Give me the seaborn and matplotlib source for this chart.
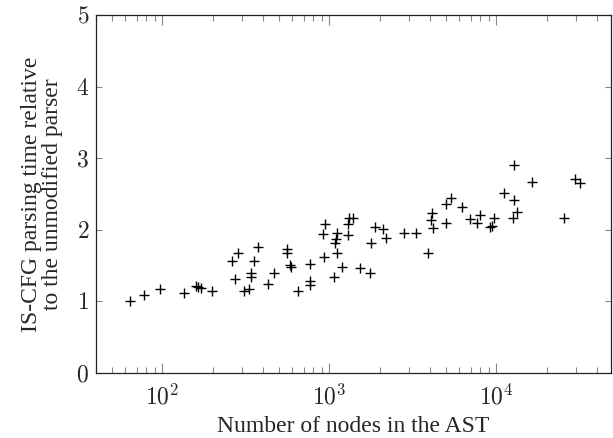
import numpy as np
import pandas as pd
import seaborn as sns
import matplotlib
matplotlib.use("Agg")
import matplotlib.pyplot as plt
from matplotlib.ticker import LogLocator, FixedLocator, FuncFormatter, NullFormatter

# AST size vs. relative IS-CFG parsing time
ast_nodes = [64, 77, 97, 135, 158, 163, 171, 198, 261, 284, 272, 307, 329, 341, 341,
             352, 371, 429, 464, 557, 557, 578, 592, 649, 762, 769, 769, 925, 916, 937,
             1067, 1102, 1077, 1091, 1102, 1189, 1291, 1291, 1309, 1384, 1513, 1743,
             1775, 1867, 2094, 2193, 2786, 3289, 3894, 4112, 4081, 4171, 4968, 4968,
             5322, 6254, 6918, 7656, 8017, 9117, 9466, 9637, 11066, 12704, 13184,
             12566, 12740, 16430, 25300, 29440, 31850]
rel_time = [1.00, 1.09, 1.18, 1.12, 1.215, 1.20, 1.19, 1.15, 1.56, 1.67, 1.31, 1.145,
            1.18, 1.39, 1.34, 1.56, 1.76, 1.25, 1.40, 1.73, 1.67, 1.51, 1.48, 1.145,
            1.52, 1.28, 1.23, 1.62, 1.94, 2.08, 1.34, 1.68, 1.82, 1.87, 1.95, 1.48,
            1.93, 2.08, 2.17, 2.16, 1.46, 1.39, 1.82, 2.04, 2.01, 1.88, 1.95, 1.95,
            1.67, 2.23, 2.14, 2.02, 2.10, 2.36, 2.44, 2.32, 2.15, 2.10, 2.20, 2.04,
            2.06, 2.16, 2.51, 2.41, 2.25, 2.17, 2.90, 2.67, 2.17, 2.71, 2.65]
y_ticks = [0, 1, 2, 3, 4, 5]

df = pd.DataFrame({"nodes": ast_nodes, "time": rel_time})

sns.set_style("ticks")
plt.rcParams["font.family"] = ["Liberation Serif", "DejaVu Serif"]
plt.rcParams["mathtext.fontset"] = "cm"

fig = plt.figure(figsize=(6.13, 4.38), dpi=100)
ax = fig.add_axes([96 / 613, 1 - 373 / 438, 515 / 613, 358 / 438])

sns.scatterplot(data=df, x="nodes", y="time", marker="+", s=55, color="black",
                linewidth=1.0, ax=ax)

ax.set_xscale("log")
ax.set_xlim(40, 48500)
ax.set_ylim(0, 5)

ax.xaxis.set_major_locator(LogLocator(base=10, numticks=10))
ax.xaxis.set_minor_locator(LogLocator(base=10, subs=np.arange(2, 10), numticks=10))
ax.xaxis.set_minor_formatter(NullFormatter())
ax.xaxis.set_major_formatter(FuncFormatter(lambda v, p: r"$10^{%d}$" % round(np.log10(v))))
ax.yaxis.set_major_locator(FixedLocator(y_ticks))
ax.yaxis.set_major_formatter(FuncFormatter(lambda v, p: r"$%d$" % v))

ax.tick_params(which="both", direction="in", top=True, right=True, color="#888888",
               labelsize=17)
ax.tick_params(which="major", length=7.5, width=0.8, pad=8)
ax.tick_params(which="minor", length=4.5, width=0.8)
ax.tick_params(axis="y", which="major", length=4.5, pad=5)

for s in ax.spines.values():
    s.set_linewidth(0.9)
    s.set_color("#222222")

ax.set_xlabel("Number of nodes in the AST", fontsize=17, labelpad=5)
ax.set_ylabel("IS-CFG parsing time relative\nto the unmodified parser", fontsize=17,
              labelpad=9, linespacing=1.0)

fig.savefig("out.png", dpi=100)
